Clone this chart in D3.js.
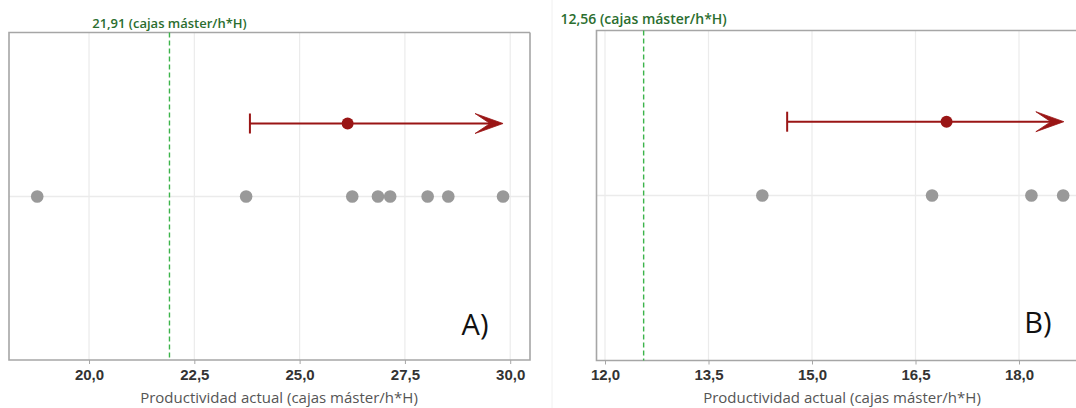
<!DOCTYPE html>
<html>
<head>
<meta charset="utf-8">
<script src="https://cdn.jsdelivr.net/npm/d3@7"></script>
<style>
  body { margin: 0; background: #fff; }
  svg { display: block; font-family: "Open Sans", "Noto Sans", sans-serif; }
</style>
</head>
<body>
<div id="chart"></div>
<script>
// panel A data
const ticksA = [20, 22.5, 25, 27.5, 30];
const valuesA = [18.77, 23.73, 26.25, 26.86, 27.15, 28.04, 28.53, 29.83];
const meanA = 26.14;
const lowerA = 23.82;
const arrowEndA = 29.83;
const refA = 21.91;

// panel B data
const ticksB = [12, 13.5, 15, 16.5, 18];
const valuesB = [14.28, 16.74, 18.18, 18.64];
const meanB = 16.95;
const lowerB = 14.64;
const arrowEndB = 18.65;
const refB = 12.56;

const unitLabel = "(cajas máster/h*H)";
const xTitle = "Productividad actual (cajas máster/h*H)";

const W = 1076, H = 408;
const svg = d3.select('#chart').append('svg')
    .attr('width', W)
    .attr('height', H);

const esFmt = d3.formatLocale({ decimal: ",", thousands: ".", grouping: [3], currency: ["", "€"] });
const f1 = esFmt.format(".1f");
const f2 = esFmt.format(".2f");

// faint separator between the two screenshots
svg.append('line')
    .attr('x1', 552).attr('x2', 552)
    .attr('y1', 0).attr('y2', H)
    .attr('stroke', '#f0f0f0');

const panels = [
    {
        name: "A)", ticks: ticksA, values: valuesA, mean: meanA, lower: lowerA,
        arrowEnd: arrowEndA, ref: refA,
        domain: [18.1, 30.47], range: [9, 530],
        left: 9, right: 530, top: 32.5, bottom: 360, rightBorder: true,
        lineY: 123.5, dotY: 196.5,
        refLabelY: 28, refLabelSize: 13,
        tickY: 360, titleY: 403, titleX: 279,
        tagX: 475, tagY: 335
    },
    {
        name: "B)", ticks: ticksB, values: valuesB, mean: meanB, lower: lowerB,
        arrowEnd: arrowEndB, ref: refB,
        domain: [12, 18], range: [605, 1019],
        left: 596.5, right: 1090, top: 30.5, bottom: 360.5, rightBorder: false,
        lineY: 121.7, dotY: 195.5,
        refLabelY: 24, refLabelSize: 14,
        tickY: 360.5, titleY: 403, titleX: 842,
        tagX: 1038, tagY: 333
    }
];

panels.forEach(p => {
    const x = d3.scaleLinear().domain(p.domain).range(p.range);
    const g = svg.append('g');

    // vertical gridlines
    g.selectAll('.vgrid')
        .data(p.ticks)
        .join('line')
        .attr('x1', d => x(d)).attr('x2', d => x(d))
        .attr('y1', p.top).attr('y2', p.bottom)
        .attr('stroke', '#ebebeb')
        .attr('stroke-width', 1.2);

    // horizontal gridline through the data points
    g.append('line')
        .attr('x1', p.left).attr('x2', p.right)
        .attr('y1', p.dotY).attr('y2', p.dotY)
        .attr('stroke', '#ebebeb')
        .attr('stroke-width', 1.5);

    // frame
    const frame = d3.path();
    frame.moveTo(p.right, p.top);
    frame.lineTo(p.left, p.top);
    frame.lineTo(p.left, p.bottom);
    frame.lineTo(p.right, p.bottom);
    if (p.rightBorder) frame.lineTo(p.right, p.top);
    g.append('path')
        .attr('d', frame.toString())
        .attr('fill', 'none')
        .attr('stroke', '#a6a6a6')
        .attr('stroke-width', 1.6);

    // axis
    const axis = d3.axisBottom(x)
        .tickValues(p.ticks)
        .tickFormat(f1)
        .tickSize(4)
        .tickPadding(5);
    const ax = g.append('g')
        .attr('transform', `translate(0,${p.tickY})`)
        .call(axis);
    ax.select('.domain').remove();
    ax.selectAll('.tick line').attr('stroke', '#a6a6a6');
    ax.selectAll('.tick text')
        .attr('fill', '#333')
        .style('font-size', '15px')
        .style('font-weight', 600);

    // axis title
    g.append('text')
        .attr('x', p.titleX).attr('y', p.titleY)
        .attr('text-anchor', 'middle')
        .attr('fill', '#555')
        .style('font-size', '15px')
        .text(xTitle);

    // reference line
    g.append('line')
        .attr('x1', x(p.ref)).attr('x2', x(p.ref))
        .attr('y1', p.top).attr('y2', p.bottom)
        .attr('stroke', '#3cb44b')
        .attr('stroke-width', 1.4)
        .attr('stroke-dasharray', '5,3');

    g.append('text')
        .attr('x', x(p.ref)).attr('y', p.refLabelY)
        .attr('text-anchor', 'middle')
        .attr('fill', '#2b6e2f')
        .style('font-size', p.refLabelSize + 'px')
        .style('font-weight', 600)
        .text(f2(p.ref) + " " + unitLabel);

    // data points
    g.selectAll('.pt')
        .data(p.values)
        .join('circle')
        .attr('cx', d => x(d))
        .attr('cy', p.dotY)
        .attr('r', 6.3)
        .attr('fill', '#999');

    // one-sided interval with arrow
    const red = '#9a1515';
    g.append('line')
        .attr('x1', x(p.lower)).attr('x2', x(p.arrowEnd) - 4)
        .attr('y1', p.lineY).attr('y2', p.lineY)
        .attr('stroke', red)
        .attr('stroke-width', 2);
    g.append('line')
        .attr('x1', x(p.lower)).attr('x2', x(p.lower))
        .attr('y1', p.lineY - 10).attr('y2', p.lineY + 10)
        .attr('stroke', red)
        .attr('stroke-width', 2);
    const tip = x(p.arrowEnd);
    const head = d3.path();
    head.moveTo(tip, p.lineY);
    head.lineTo(tip - 28, p.lineY - 10);
    head.lineTo(tip - 13, p.lineY);
    head.lineTo(tip - 28, p.lineY + 10);
    head.closePath();
    g.append('path')
        .attr('d', head.toString())
        .attr('fill', red)
        .attr('stroke', red)
        .attr('stroke-width', 0.8)
        .attr('stroke-linejoin', 'miter');
    g.append('circle')
        .attr('cx', x(p.mean)).attr('cy', p.lineY)
        .attr('r', 6)
        .attr('fill', red);

    // panel tag
    g.append('text')
        .attr('x', p.tagX).attr('y', p.tagY)
        .attr('text-anchor', 'middle')
        .attr('fill', '#111')
        .style('font-size', '29px')
        .text(p.name);
});
</script>
</body>
</html>
